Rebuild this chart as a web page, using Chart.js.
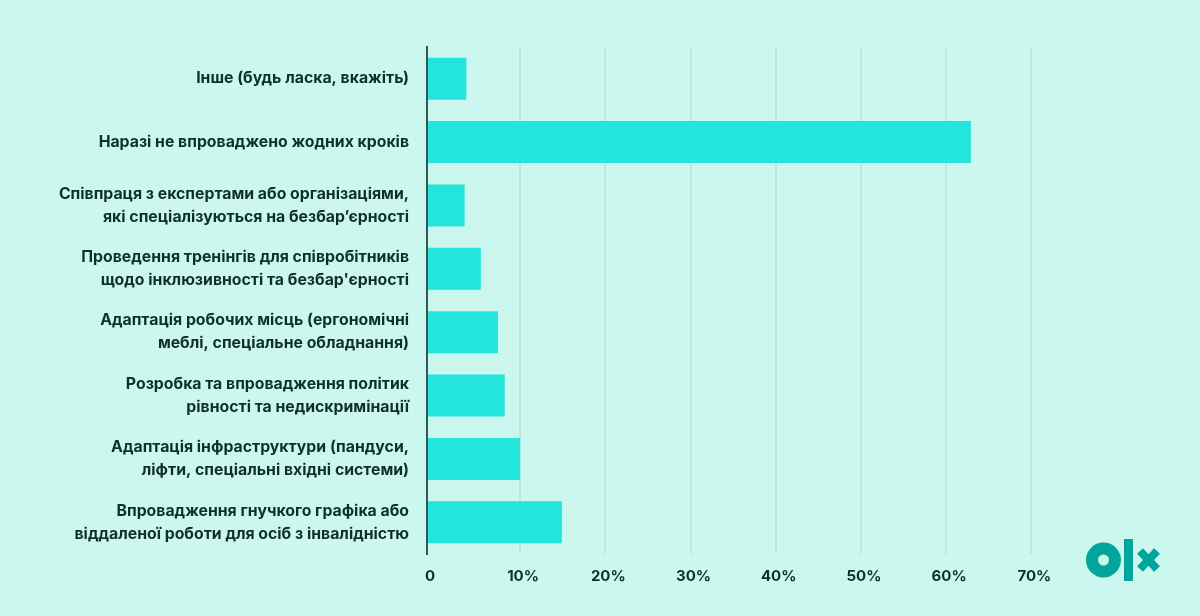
<!DOCTYPE html>
<html>
<head>
<meta charset="utf-8">
<script src="https://cdn.jsdelivr.net/npm/chart.js@4/dist/chart.umd.min.js"></script>
<style>
  html, body { margin: 0; padding: 0; background: #ccf7ee; }
  #wrap { width: 1200px; height: 616px; position: relative; }
</style>
</head>
<body>
<div id="wrap"><canvas id="c" width="1200" height="616"></canvas></div>
<script>
const categories = [
  ['Інше (будь ласка, вкажіть)'],
  ['Наразі не впроваджено жодних кроків'],
  ['Співпраця з експертами або організаціями,', 'які спеціалізуються на безбар’єрності'],
  ['Проведення тренінгів для співробітників', "щодо інклюзивності та безбар'єрності"],
  ['Адаптація робочих місць (ергономічні', 'меблі, спеціальне обладнання)'],
  ['Розробка та впровадження політик', 'рівності та недискримінації'],
  ['Адаптація інфраструктури (пандуси,', 'ліфти, спеціальні вхідні системи)'],
  ['Впровадження гнучкого графіка або', 'віддаленої роботи для осіб з інвалідністю']
];
const values = [3.7, 62.9, 3.5, 5.4, 7.4, 8.2, 10.0, 14.9];
const tickValues = [0, 10, 20, 30, 40, 50, 60, 70];
const tickLabels = ['0', '10%', '20%', '30%', '40%', '50%', '60%', '70%'];

const X_MIN = -0.92;
const X_MAX = 75;

const bgPlugin = {
  id: 'bg',
  beforeDraw(chart) {
    const ctx = chart.ctx;
    ctx.save();
    ctx.fillStyle = '#ccf7ee';
    ctx.fillRect(0, 0, chart.width, chart.height);
    ctx.restore();
  }
};

const logoPlugin = {
  id: 'logo',
  afterDraw(chart) {
    const ctx = chart.ctx;
    ctx.save();
    ctx.fillStyle = '#00a59e';
    ctx.strokeStyle = '#00a59e';
    ctx.beginPath();
    ctx.arc(1103.5, 560, 17.5, 0, Math.PI * 2);
    ctx.arc(1103.5, 560, 5.5, 0, Math.PI * 2, true);
    ctx.fill('evenodd');
    ctx.fillRect(1124, 539, 9, 42);
    ctx.lineWidth = 8;
    ctx.lineCap = 'butt';
    ctx.beginPath();
    ctx.moveTo(1140, 551); ctx.lineTo(1157, 569);
    ctx.moveTo(1157, 551); ctx.lineTo(1140, 569);
    ctx.stroke();
    ctx.restore();
  }
};

new Chart(document.getElementById('c'), {
  type: 'bar',
  data: {
    labels: categories,
    datasets: [{
      data: values,
      backgroundColor: '#23e5db',
      borderWidth: 0,
      base: X_MIN,
      categoryPercentage: 1,
      barPercentage: 0.663
    }]
  },
  options: {
    indexAxis: 'y',
    responsive: false,
    animation: false,
    devicePixelRatio: 1,
    layout: { padding: { left: 0, right: 126, top: 47, bottom: 0 } },
    plugins: { legend: { display: false }, tooltip: { enabled: false } },
    scales: {
      x: {
        type: 'linear',
        min: X_MIN,
        max: X_MAX,
        afterBuildTicks(scale) {
          scale.ticks = tickValues.map((v, i) => ({ value: i === 0 ? X_MIN : v }));
        },
        afterFit(scale) { scale.height = 62; },
        border: { display: false },
        grid: {
          drawTicks: false,
          lineWidth: 2,
          color: (ctx) => (ctx.tick && ctx.tick.value === X_MIN) ? 'rgba(0,0,0,0)' : '#b5ebe2'
        },
        ticks: {
          padding: 13,
          labelOffset: 3,
          color: '#0e2f2e',
          font: { family: 'Inter', size: 15, weight: '700' },
          callback: (val, idx) => tickLabels[idx]
        }
      },
      y: {
        afterFit(scale) { scale.width = 427; },
        border: { display: true, color: '#2c5856', width: 2 },
        grid: { display: false, drawTicks: false },
        ticks: {
          padding: 18,
          color: '#0e2f2e',
          font: { family: 'Inter', size: 15.8, weight: '700', lineHeight: 1.45 }
        }
      }
    }
  },
  plugins: [bgPlugin, logoPlugin]
});
</script>
</body>
</html>
